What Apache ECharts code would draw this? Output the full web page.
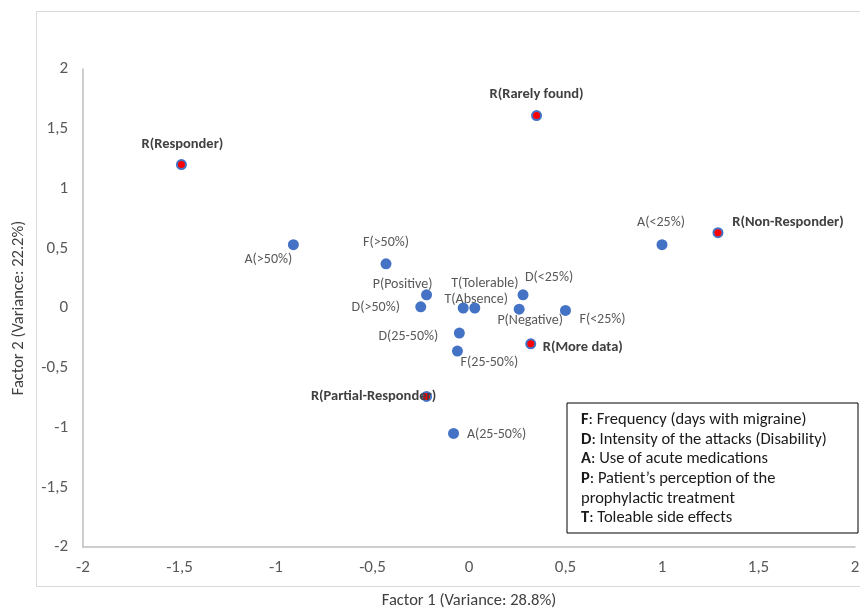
<!DOCTYPE html>
<html>
<head>
<meta charset="utf-8">
<script src="https://cdn.jsdelivr.net/npm/echarts@6/dist/echarts.min.js"></script>
<style>html,body{margin:0;padding:0;background:#fff}#c{width:860px;height:610px}</style>
</head>
<body>
<div id="c"></div>
<script>
// Factor categories (blue points)
const factorNames = ['A(<25%)','A(>50%)','F(>50%)','P(Positive)','D(>50%)','T(Absence)','T(Tolerable)','D(<25%)','P(Negative)','F(<25%)','D(25-50%)','F(25-50%)','A(25-50%)'];
const factorX = [1.0, -0.91, -0.43, -0.22, -0.25, -0.03, 0.03, 0.28, 0.26, 0.5, -0.05, -0.06, -0.08];
const factorY = [0.53, 0.53, 0.37, 0.11, 0.01, 0.0, 0.0, 0.11, -0.01, -0.02, -0.21, -0.36, -1.05];
// Response categories (red points)
const respNames = ['R(Responder)','R(Rarely found)','R(Non-Responder)','R(More data)','R(Partial-Responder)'];
const respX = [-1.49, 0.35, 1.29, 0.32, -0.22];
const respY = [1.2, 1.61, 0.63, -0.3, -0.74];
// Axis ticks
const axisMin = -2, axisMax = 2, axisStep = 0.5;
const xTitle = 'Factor 1 (Variance: 28.8%)';
const yTitle = 'Factor 2 (Variance: 22.2%)';
const legendLines = [
  ['F', ': Frequency (days with migraine)'],
  ['D', ': Intensity of the attacks (Disability)'],
  ['A', ': Use of acute medications'],
  ['P', ': Patient\u2019s perception of the'],
  ['', 'prophylactic treatment'],
  ['T', ': Toleable side effects']
];

// label placement (style): offset of label centre from point centre, px
const labelOffsets = {
  'A(<25%)': [-1, -22], 'A(>50%)': [-25, 15], 'F(>50%)': [0, -21], 'P(Positive)': [-24, -10],
  'D(>50%)': [-45, 1], 'T(Absence)': [13, -9], 'T(Tolerable)': [10, -25], 'D(<25%)': [26, -17],
  'P(Negative)': [11, 11], 'F(<25%)': [37, 9], 'D(25-50%)': [-51, 3], 'F(25-50%)': [32, 11],
  'A(25-50%)': [43, 1],
  'R(Responder)': [1, -20], 'R(Rarely found)': [0, -21], 'R(Non-Responder)': [70, -10],
  'R(More data)': [52, 4], 'R(Partial-Responder)': [-53, 0]
};

const FONT = 'Carlito, Lato, "Open Sans", sans-serif';
function mk(names, xs, ys) {
  return names.map((n, i) => ({
    name: n, value: [xs[i], ys[i]],
    label: { offset: labelOffsets[n] || [0, 0] }
  }));
}
const fmt = v => String(v).replace('.', ',');

const chart = echarts.init(document.getElementById('c'));
const legendText = legendLines.map(l => (l[0] ? '{b|' + l[0] + '}' : '') + '{n|' + l[1] + '}').join('\n');
chart.setOption({
  animation: false,
  backgroundColor: '#fff',
  grid: { left: 83, top: 69, width: 772, height: 478, containLabel: false, outerBoundsMode: 'none' },
  xAxis: {
    type: 'value', min: axisMin, max: axisMax, interval: axisStep,
    axisLine: { show: true, onZero: false, lineStyle: { color: '#BFBFBF', width: 1.5 } },
    axisTick: { show: false }, splitLine: { show: false },
    axisLabel: { formatter: fmt, color: '#595959', fontSize: 17, fontFamily: FONT, margin: 12 },
    name: xTitle, nameLocation: 'middle', nameGap: 45,
    nameTextStyle: { color: '#404040', fontSize: 16.5, fontFamily: FONT }
  },
  yAxis: {
    type: 'value', min: axisMin, max: axisMax, interval: axisStep,
    axisLine: { show: true, onZero: false, lineStyle: { color: '#BFBFBF', width: 1.5 } },
    axisTick: { show: false }, splitLine: { show: false },
    axisLabel: { formatter: fmt, color: '#595959', fontSize: 17, fontFamily: FONT, margin: 15 },
    name: yTitle, nameLocation: 'middle', nameGap: 56, nameRotate: 90,
    nameTextStyle: { color: '#404040', fontSize: 16.5, fontFamily: FONT }
  },
  series: [
    {
      type: 'scatter', symbol: 'circle', symbolSize: 11,
      itemStyle: { color: '#4472C4', opacity: 1 },
      label: { show: true, position: 'inside', align: 'center', verticalAlign: 'middle',
        formatter: p => p.name, color: '#595959', fontSize: 14, fontFamily: FONT },
      data: mk(factorNames, factorX, factorY)
    },
    {
      type: 'scatter', symbol: 'circle', symbolSize: 9,
      itemStyle: { color: '#FF0000', borderColor: '#4472C4', borderWidth: 2, opacity: 1 },
      label: { show: true, position: 'inside', align: 'center', verticalAlign: 'middle',
        formatter: p => p.name, color: '#404040', fontSize: 14.5, fontWeight: 'bold', fontFamily: FONT },
      data: mk(respNames, respX, respY)
    }
  ],
  graphic: [
    { type: 'rect', silent: true, z: -10, shape: { x: 36.5, y: 11.5, width: 840, height: 575 },
      style: { fill: 'none', stroke: '#D9D9D9', lineWidth: 1 } },
    { type: 'rect', z: 10, shape: { x: 567, y: 403, width: 291, height: 130 },
      style: { fill: '#fff', stroke: '#000', lineWidth: 1 } },
    { type: 'text', z: 11, left: 581, top: 410,
      style: { text: legendText, fontFamily: FONT, fontSize: 16.5, fill: '#1a1a1a', lineHeight: 19.7,
        rich: { b: { fontWeight: 'bold', fontSize: 16.5, fontFamily: FONT, fill: '#1a1a1a', lineHeight: 19.7 },
                n: { fontSize: 16.5, fontFamily: FONT, fill: '#1a1a1a', lineHeight: 19.7 } } } }
  ]
});
</script>
</body>
</html>
